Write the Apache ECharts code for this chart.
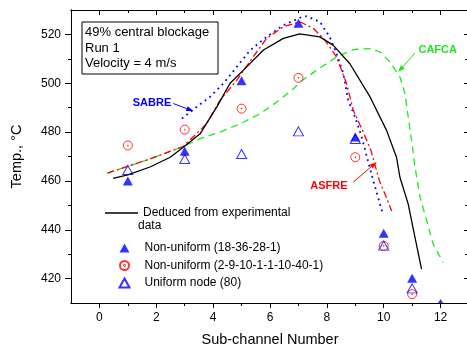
<!DOCTYPE html>
<html>
<head>
<meta charset="utf-8">
<script src="https://cdn.jsdelivr.net/npm/echarts@6/dist/echarts.min.js"></script>
<style>
html, body { margin: 0; padding: 0; background: #fff; }
#main { width: 467px; height: 347px; }
</style>
</head>
<body>
<div id="main"></div>
<script>
var FONT = 'Arial, "Liberation Sans", sans-serif';

// marker data: sub-channel number -> temperature
var channelsA = [1, 3, 5, 7, 9, 10, 11, 12];
var nonUniformA = [460, 472.2, 501, 524.6, 478, 438.6, 420.1, 410];
var channelsB = [1, 3, 5, 7, 9, 10, 11];
var nonUniformB = [474.5, 481, 489.6, 502.2, 469.7, 433.4, 413.6];
var uniformNode = [464.5, 469, 471, 480.3, 477.2, 433.5, 416];

// curves [x, y]
var deduced = [[0.48,461],[1,462.5],[1.78,465.7],[2.49,469.7],[2.95,473.8],[3.54,479.3],[4.13,490.3],[4.59,499.9],[5.18,506.7],[5.77,513.6],[6.47,518.4],[7.05,520.2],[7.75,519],[8.22,515.6],[8.81,508],[9.52,494.4],[10.1,480.7],[10.45,469.7],[10.57,461.5],[10.86,450.6],[11.1,436.9],[11.33,423.9]];
var asfre = [[0.28,463.2],[1.78,469],[2.95,474.1],[3.77,483.4],[4.24,493],[4.83,501.2],[5.41,510.8],[5.88,518.4],[6.47,523.1],[7.05,525.2],[7.52,522.5],[7.93,517.7],[8.34,510.8],[8.69,499.9],[8.93,488.9],[9.3,479.5],[9.55,472.5],[9.85,460],[10.1,453],[10.28,447.7]];
var sabre = [[2.9,485.5],[3.42,490.3],[3.89,494.4],[4.36,499.9],[4.83,506.7],[5.3,513.5],[5.88,519],[6.47,523.8],[7.17,527.4],[7.29,527.4],[7.75,525.2],[8.1,519],[8.34,512.2],[8.58,504],[8.75,493],[9.0,486],[9.25,477],[9.45,468],[9.6,461.5],[9.82,452.5],[9.98,446]];
var cafca = [[0.28,463.2],[1.78,469],[2.95,474.1],[3.54,477.3],[4.24,480],[4.95,483.4],[5.65,487.5],[6.24,492.3],[6.82,497.7],[7.05,500.5],[7.64,505.3],[8.34,510.8],[8.93,513.8],[9.52,514.2],[9.87,512.8],[10.22,508.7],[10.57,502.6],[10.75,495.8],[10.86,486.2],[10.98,476.6],[11.1,465.7],[11.16,461.5],[11.28,453.3],[11.51,443.7],[11.74,434.1],[12.09,426.6]];

// ticks
var xMajor = [0, 2, 4, 6, 8, 10, 12];
var xMinor = [1, 3, 5, 7, 9, 11];
var yMajor = [420, 440, 460, 480, 500, 520];
var yMinor = [430, 450, 470, 490, 510];

var X_MIN = -1, X_MAX = 13, Y_MIN = 410, Y_MAX = 530;

var dotCircle = 'path://M0,10 A10,10 0 1,1 20,10 A10,10 0 1,1 0,10 Z M9,10 A1,1 0 1,1 11,10 A1,1 0 1,1 9,10 Z';

function xAxis(pos, ticks, len, inside, labels) {
    return {
        type: 'value', min: X_MIN, max: X_MAX, position: pos,
        axisLine: { show: true, onZero: false, lineStyle: { color: '#000', width: 1 } },
        axisTick: { show: true, inside: inside, length: len, customValues: ticks, lineStyle: { color: '#000' } },
        axisLabel: labels ? { show: true, customValues: xMajor, color: '#000', fontSize: 12, fontFamily: FONT, margin: 9 } : { show: false },
        splitLine: { show: false },
        name: labels ? 'Sub-channel Number' : '',
        nameLocation: 'middle', nameGap: 29,
        nameTextStyle: { color: '#000', fontSize: 14.5, fontFamily: FONT }
    };
}
function yAxis(pos, ticks, len, inside, labels) {
    return {
        type: 'value', min: Y_MIN, max: Y_MAX, position: pos,
        axisLine: { show: true, onZero: false, lineStyle: { color: '#000', width: 1 } },
        axisTick: { show: true, inside: inside, length: len, customValues: ticks, lineStyle: { color: '#000' } },
        axisLabel: labels ? { show: true, customValues: yMajor, color: '#000', fontSize: 12, fontFamily: FONT, margin: 10 } : { show: false },
        splitLine: { show: false },
        name: labels ? 'Temp., \u00B0C' : '',
        nameLocation: 'middle', nameGap: 47,
        nameTextStyle: { color: '#000', fontSize: 14.5, fontFamily: FONT }
    };
}

function pairs(xs, ys) {
    return xs.map(function (x, i) {
        var item = { value: [x, ys[i]] };
        if (ys[i] <= Y_MIN) { item.symbolSize = [5, 4]; item.symbolOffset = [0, -2]; }
        return item;
    });
}

var chart = echarts.init(document.getElementById('main'));
var option = {
    animation: false,
    backgroundColor: '#fff',
    grid: { left: 71, top: 10, right: -2, bottom: 44, outerBoundsMode: 'none', containLabel: false },
    xAxis: [
        xAxis('bottom', xMajor, 5, false, true),
        xAxis('bottom', xMinor, 3, false, false),
        xAxis('top', xMajor, 5, true, false),
        xAxis('top', xMinor, 3, true, false)
    ],
    yAxis: [
        yAxis('left', yMajor, 6, false, true),
        yAxis('left', yMinor, 3, false, false),
        yAxis('right', yMajor, 5, true, false),
        yAxis('right', yMinor, 4, true, false)
    ],
    legend: [{
        data: [{ name: 'Deduced from experimental', icon: 'rect' }],
        orient: 'vertical', left: 100, top: 201,
        itemWidth: 33, itemHeight: 1.3,
        textStyle: { color: '#000', fontSize: 12, fontFamily: FONT, lineHeight: 14, padding: [0, 0, 0, 0] }
    }, {
        data: ['Non-uniform (18-36-28-1)', 'Non-uniform (2-9-10-1-1-10-40-1)', 'Uniform node (80)'],
        orient: 'vertical', left: 112, top: 236,
        itemWidth: 10, itemHeight: 9, itemGap: 3.5,
        textStyle: { color: '#000', fontSize: 12, fontFamily: FONT, lineHeight: 14, padding: [0, 0, 0, 10] }
    }],
    series: [
        { name: 'CAFCA', type: 'line', data: cafca, symbol: 'none',
          lineStyle: { color: '#1ee81e', width: 1.3, type: [7, 5] } },
        { name: 'SABRE', type: 'line', data: sabre, symbol: 'none',
          lineStyle: { color: '#0000ff', width: 1.8, type: [1.8, 4] } },
        { name: 'ASFRE', type: 'line', data: asfre, symbol: 'none',
          lineStyle: { color: '#ff0000', width: 1.3, type: [7, 3, 2, 3] } },
        { name: 'Deduced from experimental', type: 'line', data: deduced, symbol: 'none',
          lineStyle: { color: '#000', width: 1.3 }, itemStyle: { color: '#000' } },
        { name: 'Non-uniform (18-36-28-1)', type: 'scatter', data: pairs(channelsA, nonUniformA),
          symbol: 'triangle', symbolSize: [10, 9], itemStyle: { color: '#0000ff' }, z: 5 },
        { name: 'Non-uniform (2-9-10-1-1-10-40-1)', type: 'scatter', data: pairs(channelsB, nonUniformB),
          symbol: dotCircle, symbolSize: 9, itemStyle: { color: 'none', borderColor: '#ff0000', borderWidth: 1 }, z: 5 },
        { name: 'Uniform node (80)', type: 'scatter', data: pairs(channelsB, uniformNode),
          symbol: 'triangle', symbolSize: [10, 9], itemStyle: { color: 'none', borderColor: '#0000ff', borderWidth: 1 }, z: 5 }
    ]
};
chart.setOption(option);

function px(p) { return chart.convertToPixel({ gridIndex: 0 }, p); }

function arrow(from, to, color) {
    var a = px(from), b = px(to);
    var dx = b[0] - a[0], dy = b[1] - a[1], L = Math.sqrt(dx * dx + dy * dy);
    var ux = dx / L, uy = dy / L, nx = -uy, ny = ux;
    var hl = 7, hw = 2.5;
    var bx = b[0] - ux * hl, by = b[1] - uy * hl;
    return [{
        type: 'line', shape: { x1: a[0], y1: a[1], x2: bx, y2: by },
        style: { stroke: color, lineWidth: 1 }, z: 20
    }, {
        type: 'polygon', shape: { points: [[b[0], b[1]], [bx + nx * hw, by + ny * hw], [bx - nx * hw, by - ny * hw]] },
        style: { fill: color }, z: 20
    }];
}
function label(text, at, color) {
    var p = px(at);
    return {
        type: 'text', x: p[0], y: p[1], z: 20,
        style: { text: text, fill: color, font: 'bold 11px ' + FONT, align: 'center', verticalAlign: 'middle' }
    };
}

var boxLines = ['49% central blockage', 'Run 1', 'Velocity = 4 m/s'];
var graphics = [{
    type: 'rect', shape: { x: 82, y: 22, width: 136, height: 52 },
    style: { fill: '#fff', stroke: '#000', lineWidth: 1 }, z: 20
}];
boxLines.forEach(function (t, i) {
    graphics.push({
        type: 'text', x: 85, y: 32.5 + i * 15.5, z: 21,
        style: { text: t, fill: '#000', font: '13px ' + FONT, verticalAlign: 'middle' }
    });
});
graphics.push({
    type: 'text', x: 138, y: 226, z: 21,
    style: { text: 'data', fill: '#000', font: '12px ' + FONT, verticalAlign: 'middle' }
});
graphics.push(label('SABRE', [1.85, 491.8], '#0000ff'));
graphics.push(label('CAFCA', [11.9, 513.8], '#1ee81e'));
graphics.push(label('ASFRE', [8.07, 457.8], '#ff0000'));
graphics = graphics
    .concat(arrow([2.6, 491.7], [3.3, 488.6], '#0000ff'))
    .concat(arrow([11.1, 512.4], [10.51, 504.6], '#1ee81e'))
    .concat(arrow([8.93, 459.5], [9.75, 467.7], '#ff0000'));

chart.setOption({ graphic: graphics });
</script>
</body>
</html>
